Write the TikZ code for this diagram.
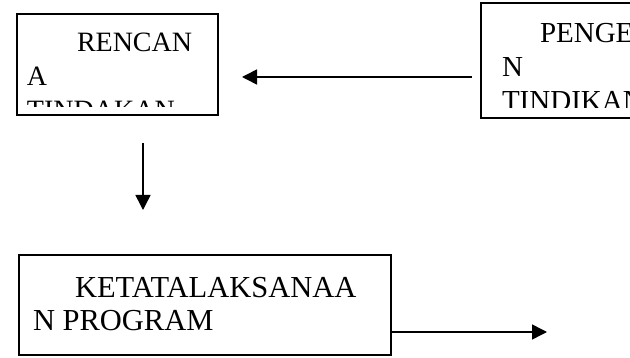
\documentclass[tikz,border=0pt]{standalone}
\usepackage{fontspec}
\setmainfont{Liberation Serif}
\usetikzlibrary{arrows.meta}
\begin{document}
\begin{tikzpicture}[x=1pt,y=-1pt,
  box/.style={draw=black, line width=1.5pt, rectangle, inner sep=0pt, outer sep=0pt, anchor=north west},
  txt/.style={anchor=base west, inner sep=0pt, outer sep=0pt, font=\fontsize{28}{34}\selectfont},
  midtxt/.style={txt, font=\fontsize{29}{35}\selectfont},
  bigtxt/.style={txt, font=\fontsize{30.5}{36}\selectfont},
  conn/.style={line width=1.5pt, -{Triangle[length=15pt,width=15pt]}}]
\useasboundingbox (0,0) rectangle (630,358);
\clip (0,0) rectangle (630,358);
% boxes
\node[box, minimum width=201pt, minimum height=101pt] (b1) at (17,14) {};
\node[box, minimum width=200pt, minimum height=115pt] (b2) at (481,3) {};
\node[box, minimum width=372pt, minimum height=100pt] (b3) at (19,255) {};
% text box 1
\begin{scope}
\clip (17,14) rectangle (218,107);
\node[txt] (t1a) at (77,52) {RENCAN};
\node[txt] (t1b) at (27,86) {A};
\node[txt] (t1c) at (27,120) {TINDAKAN};
\end{scope}
% text box 2
\begin{scope}
\clip (481,3) rectangle (630,108);
\node[midtxt] (t2a) at (540,43) {PENGE};
\node[midtxt] (t2b) at (502,77) {N};
\node[midtxt] (t2c) at (502,111) {TINDIKAN};
\end{scope}
% text box 3
\node[bigtxt] (t3a) at (75,298) {KETATALAKSANAA};
\node[bigtxt] (t3b) at (33,331) {N PROGRAM};
% connectors
\coordinate (c1s) at (472,77);
\coordinate (c1e) at (242,77);
\coordinate (c2s) at (143,143);
\coordinate (c2e) at (143,210);
\coordinate (c3e) at (547,332);
\draw[conn] (c1s) -- (c1e);
\draw[conn] (c2s) -- (c2e);
\draw[conn] (b3.east |- c3e) -- (c3e);
\end{tikzpicture}
\end{document}
